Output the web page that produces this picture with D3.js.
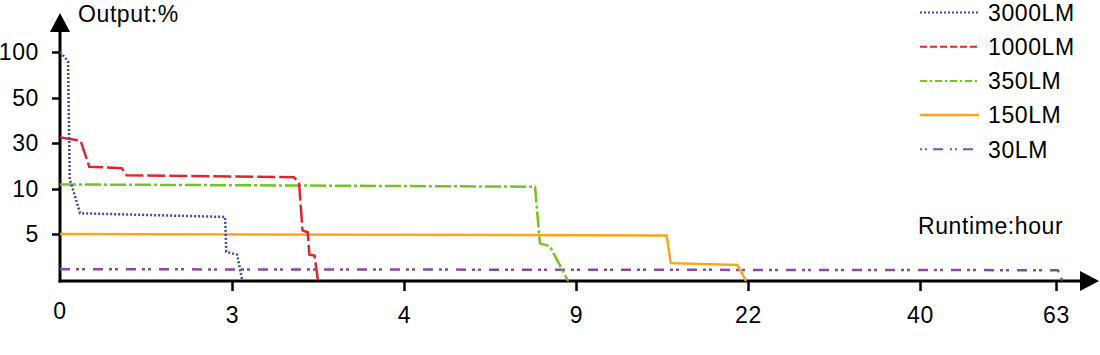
<!DOCTYPE html>
<html>
<head>
<meta charset="utf-8">
<script src="https://cdn.jsdelivr.net/npm/d3@7"></script>
<style>
  body { margin: 0; background: #fff; }
  text { font-family: "Liberation Sans", Arial, sans-serif; fill: #000; letter-spacing: 0.6px; }
</style>
</head>
<body>
<div id="chart"></div>
<script>
// x axis ticks (hours) and y axis ticks (output %)
const xTicks = [0, 3, 4, 9, 22, 40, 63];
const yTicks = [5, 10, 30, 50, 100];
const yDomain = [0, 5, 10, 30, 50, 100];

const seriesNames = ["3000LM", "1000LM", "350LM", "150LM", "30LM"];

// [hour, output %]
const lm3000 = [[0, 100], [0.14, 90], [0.17, 14], [0.2, 12], [0.35, 7.3], [2.88, 6.9], [2.9, 3.1], [3.03, 2.8], [3.06, 0]];
const lm1000 = [[0, 32.5], [0.36, 31], [0.51, 19.7], [1.08, 19], [1.16, 16], [3.36, 15.1], [3.39, 12.5], [3.41, 5.4], [3.44, 5.2], [3.45, 2.8], [3.48, 2.7], [3.5, 0]];
const lm350 = [[0, 12], [7.81, 11], [7.95, 4], [8.24, 3.7], [8.77, 0]];
const lm150 = [[0, 5], [15.85, 4.85], [16.16, 1.9], [21.2, 1.7], [21.85, 0]];
const lm30 = [[0, 1.25], [63.3, 1.15], [64.1, 0]];

const seriesData = [lm3000, lm1000, lm350, lm150, lm30];
const colors = ["#3a4aa6", "#e0262c", "#72c424", "#ffa31a", "#8a4a9e"];
const dashes = ["2,2", "18,4", "16,3,3,3", null, "10,6,3,3,3,8"];
const legendDashes = ["2,2", "7,3", "7,3,2,3", null, "2,3,2,6,10,7"];

const W = 1100, H = 355;
const left = 60, bottom = 281;
const fontSize = "23px";

const svg = d3.select("#chart").append("svg")
    .attr("width", W)
    .attr("height", H);

// uneven category-like spacing, the last step is shorter
const x = d3.scaleLinear()
    .domain(xTicks)
    .range([left, 232, 404, 576, 748, 920, 1056]);

const y = d3.scaleLinear()
    .domain(yDomain)
    .range([bottom, 234, 189, 143, 98, 52]);

// x axis
const xAxis = svg.append("g")
    .attr("transform", `translate(0,${bottom})`)
    .call(d3.axisBottom(x).tickValues(xTicks.slice(1)).tickSize(10).tickPadding(12).tickFormat(d3.format("d")));
xAxis.select(".domain").remove();
xAxis.selectAll(".tick line").attr("stroke", "#000").attr("stroke-width", 2.5);
xAxis.selectAll(".tick text").style("font-size", fontSize).attr("dy", "0.85em");
// "0" under the origin
svg.append("text")
    .attr("x", x(0)).attr("y", 319)
    .attr("text-anchor", "middle")
    .style("font-size", fontSize)
    .text("0");

// y axis
const yAxis = svg.append("g")
    .attr("transform", `translate(${left},0)`)
    .call(d3.axisLeft(y).tickValues(yTicks).tickSize(8).tickPadding(13));
yAxis.select(".domain").remove();
yAxis.selectAll(".tick line").attr("stroke", "#000").attr("stroke-width", 2.5);
yAxis.selectAll(".tick text").style("font-size", fontSize);

// axis lines with arrows
svg.append("line")
    .attr("x1", left - 1.5).attr("x2", 1082)
    .attr("y1", bottom).attr("y2", bottom)
    .attr("stroke", "#000").attr("stroke-width", 3);
svg.append("path")
    .attr("d", `M1080,${bottom - 10}L1099,${bottom}L1080,${bottom + 10}Z`)
    .attr("fill", "#000");
svg.append("line")
    .attr("x1", left).attr("x2", left)
    .attr("y1", bottom + 1.5).attr("y2", 30)
    .attr("stroke", "#000").attr("stroke-width", 3);
svg.append("path")
    .attr("d", `M${left - 10},32L${left},13L${left + 10},32Z`)
    .attr("fill", "#000");

// axis titles
svg.append("text")
    .attr("x", 78).attr("y", 22)
    .style("font-size", fontSize)
    .text("Output:%");
svg.append("text")
    .attr("x", 918).attr("y", 234)
    .style("font-size", fontSize)
    .text("Runtime:hour");

// series lines
const line = d3.line()
    .x(d => x(d[0]))
    .y(d => y(d[1]));

const order = [4, 3, 2, 1, 0];
order.forEach(i => {
    svg.append("path")
        .datum(seriesData[i])
        .attr("d", line)
        .attr("fill", "none")
        .attr("stroke", colors[i])
        .attr("stroke-width", 2.5)
        .attr("stroke-dasharray", dashes[i]);
});

// legend
const legend = svg.append("g");
seriesNames.forEach((name, i) => {
    const ly = 12.5 + i * 34.2;
    legend.append("line")
        .attr("x1", 920).attr("x2", 979)
        .attr("y1", ly).attr("y2", ly)
        .attr("stroke", colors[i])
        .attr("stroke-width", i === 3 ? 2.5 : 2)
        .attr("stroke-dasharray", legendDashes[i]);
    legend.append("text")
        .attr("x", 988).attr("y", ly)
        .attr("dy", "0.36em")
        .style("font-size", fontSize)
        .text(name);
});
</script>
</body>
</html>
